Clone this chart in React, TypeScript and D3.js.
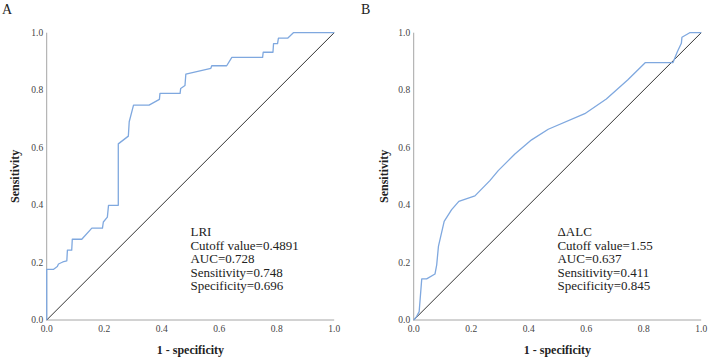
import React from 'react';
import * as d3 from 'd3';

// ROC curve points as [1 - specificity, sensitivity]
const lriCurve: [number, number][] = [
  [0, 0], [0, 0.176], [0.023, 0.176], [0.037, 0.186], [0.041, 0.195], [0.056, 0.202],
  [0.07, 0.206], [0.072, 0.243], [0.087, 0.243], [0.089, 0.281], [0.122, 0.281],
  [0.157, 0.32], [0.194, 0.32], [0.197, 0.341], [0.211, 0.358], [0.215, 0.399],
  [0.249, 0.399], [0.249, 0.613], [0.284, 0.64], [0.287, 0.69], [0.302, 0.748],
  [0.356, 0.748], [0.392, 0.768], [0.394, 0.789], [0.464, 0.789], [0.466, 0.806],
  [0.481, 0.816], [0.484, 0.856], [0.571, 0.876], [0.574, 0.885], [0.626, 0.885],
  [0.644, 0.914], [0.751, 0.914], [0.753, 0.932], [0.787, 0.932], [0.789, 0.962],
  [0.803, 0.962], [0.806, 0.981], [0.838, 0.981], [0.858, 1.0], [1, 1],
];

const alcCurve: [number, number][] = [
  [0, 0], [0.01, 0.012], [0.019, 0.029], [0.028, 0.143], [0.045, 0.143], [0.074, 0.16],
  [0.08, 0.192], [0.086, 0.256], [0.106, 0.343], [0.132, 0.384], [0.157, 0.413],
  [0.213, 0.432], [0.265, 0.485], [0.294, 0.52], [0.352, 0.578], [0.41, 0.627],
  [0.468, 0.664], [0.595, 0.718], [0.67, 0.769], [0.745, 0.836], [0.806, 0.896],
  [0.902, 0.896], [0.917, 0.934], [0.931, 0.963], [0.933, 0.984], [0.96, 1.0], [1, 1],
];

const tickValues = [0, 0.2, 0.4, 0.6, 0.8, 1.0];

const lriStats = ['LRI', 'Cutoff value=0.4891', 'AUC=0.728', 'Sensitivity=0.748', 'Specificity=0.696'];
const alcStats = ['\u0394ALC', 'Cutoff value=1.55', 'AUC=0.637', 'Sensitivity=0.411', 'Specificity=0.845'];

const serif = { fontFamily: "'Liberation Serif', 'DejaVu Serif', serif" };

type PanelProps = {
  letter: string;
  curve: [number, number][];
  stats: string[];
  left: number;
  letterX: number;
  yTitleX: number;
};

const Panel = ({ letter, curve, stats, left, letterX, yTitleX }: PanelProps) => {
  const top = 32.7;
  const bottom = 320;
  const size = 287.5;

  const x = d3.scaleLinear().domain([0, 1]).range([left, left + size]);
  const y = d3.scaleLinear().domain([0, 1]).range([bottom, top]);

  const line = d3.line<[number, number]>()
    .x(d => x(d[0]))
    .y(d => y(d[1]));

  return (
    <g style={serif}>
      <text x={letterX} y={14} fontSize={14} fill="#222">{letter}</text>

      {/* axes */}
      <line x1={x(0)} x2={x(0)} y1={y(1)} y2={y(0)} stroke="#a6a6a6" strokeWidth={1} />
      <line x1={x(0)} x2={x(1)} y1={y(0)} y2={y(0)} stroke="#a6a6a6" strokeWidth={1} />

      {tickValues.map(t => (
        <text key={'y' + t} x={x(0) - 3.5} y={y(t)} dy="0.35em" textAnchor="end"
          fontSize={9.5} fill="#444">{t.toFixed(1)}</text>
      ))}
      {tickValues.map(t => (
        <text key={'x' + t} x={x(t)} y={y(0) + 8.5} dy="0.35em" textAnchor="middle"
          fontSize={9.5} fill="#444">{t.toFixed(1)}</text>
      ))}

      {/* reference diagonal */}
      <line x1={x(0)} y1={y(0)} x2={x(1)} y2={y(1)} stroke="#333" strokeWidth={1} />

      <path d={line(curve) ?? ''} fill="none" stroke="#7fa8df" strokeWidth={1.3}
        strokeLinejoin="round" />

      {stats.map((s, i) => (
        <text key={s} x={x(0.5)} y={231.7 + i * 13.5} dy="0.35em"
          fontSize={13} fill="#222">{s}</text>
      ))}

      <text x={x(0.5)} y={350} dy="0.35em" textAnchor="middle"
        fontSize={12} fontWeight="bold" fill="#222">1 - specificity</text>
      <text transform={`translate(${yTitleX},${y(0.5)}) rotate(-90)`} dy="0.35em"
        textAnchor="middle" fontSize={12} fontWeight="bold"
        fill="#222">Sensitivity</text>
    </g>
  );
};

const App = () => (
  <svg width={709} height={358} style={{ position: 'absolute', left: 0, top: 0, background: '#fff' }}>
    <Panel letter="A" curve={lriCurve} stats={lriStats} left={46.7} letterX={2} yTitleX={15} />
    <Panel letter="B" curve={alcCurve} stats={alcStats} left={413.7} letterX={361} yTitleX={384} />
  </svg>
);

export default App;
